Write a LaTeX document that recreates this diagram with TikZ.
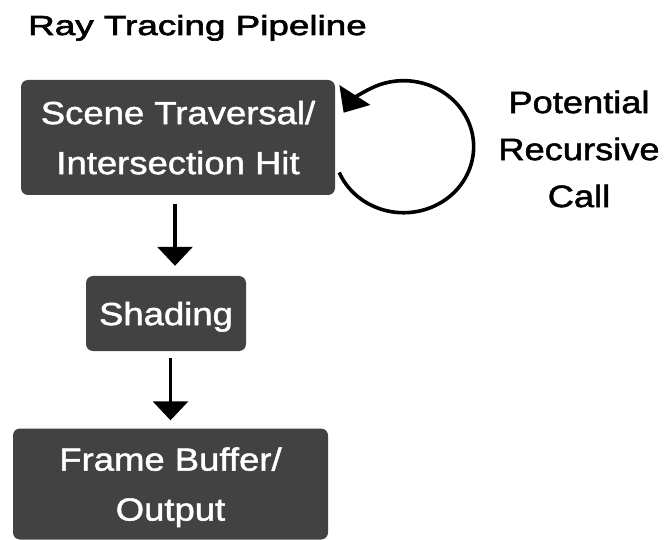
\documentclass[tikz,border=0pt]{standalone}
\usepackage{fontspec}
\setmainfont{Liberation Sans}
\newfontfamily\titlefont[FakeStretch=1.34,FakeBold=2.4]{Liberation Sans}
\newfontfamily\boxfont[FakeStretch=1.14,FakeBold=1.5]{Liberation Sans}
\newfontfamily\notefont[FakeStretch=1.17,FakeBold=1.6]{Liberation Sans}
\usetikzlibrary{arrows.meta}

\definecolor{boxgray}{HTML}{424242}

\begin{document}
\begin{tikzpicture}[x=1pt,y=1pt,
  stage/.style={fill=boxgray, rounded corners=7pt, text=white, align=center,
    font=\boxfont\fontsize{32}{50}\selectfont, inner sep=0pt, text depth=0pt},
  flow/.style={line width=3.4pt, -{Triangle[width=35pt,length=19pt]}}]
  \useasboundingbox (0,0) rectangle (667,-540);

  \node[anchor=base west, inner sep=0pt, font=\titlefont\fontsize{27.5}{30}\selectfont] (title) at (28,-35) {Ray Tracing Pipeline};

  \node[stage, minimum width=314pt, minimum height=115pt] (scene) at (178,-137.5) {Scene Traversal/\\Intersection Hit};
  \node[stage, minimum width=160pt, minimum height=75pt] (shading) at (166,-313.5) {Shading};
  \node[stage, minimum width=315pt, minimum height=111pt] (frame) at (170.5,-484) {Frame Buffer/\\Output};

  \node[align=center, font=\notefont\fontsize{31}{47}\selectfont] (note) at (579,-149) {Potential\\Recursive\\Call};

  \draw[flow, shorten <=9pt, shorten >=10pt] ([xshift=-3pt]scene.south) -- ([xshift=-3pt]scene.south |- shading.north);
  \draw[flow, shorten <=7pt, shorten >=8pt] (frame.north |- shading.south) -- (frame.north);

  % recursive call loop
  \draw[line width=3.6pt, -{Triangle[width=36pt,length=21pt]}] ([xshift=4pt,yshift=-35pt]scene.east)
    arc[start angle=203, end angle=509, x radius=70pt, y radius=66pt];
\end{tikzpicture}
\end{document}
